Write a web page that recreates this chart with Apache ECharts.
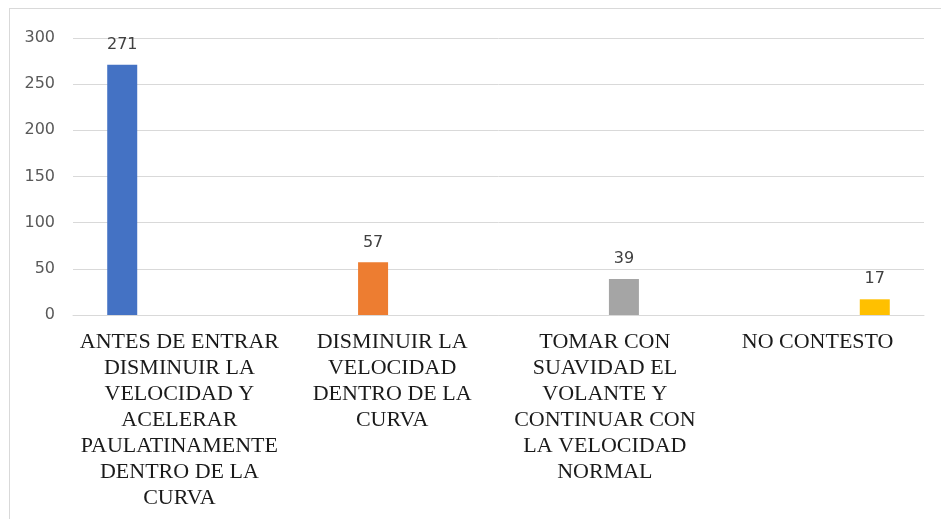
<!DOCTYPE html>
<html><head><meta charset="utf-8">
<script src="https://cdn.jsdelivr.net/npm/echarts@6/dist/echarts.min.js"></script>
<style>html,body{margin:0;padding:0;background:#fff}#c{width:941px;height:519px}</style>
</head><body><div id="c"></div>
<script>
const categories = [
  "ANTES DE ENTRAR\nDISMINUIR LA\nVELOCIDAD Y\nACELERAR\nPAULATINAMENTE\nDENTRO DE LA\nCURVA",
  "DISMINUIR LA\nVELOCIDAD\nDENTRO DE LA\nCURVA",
  "TOMAR CON\nSUAVIDAD EL\nVOLANTE Y\nCONTINUAR CON\nLA VELOCIDAD\nNORMAL",
  "NO CONTESTO"
];
const values = [271, 57, 39, 17];
const colors = ["#4472C4", "#ED7D31", "#A5A5A5", "#FFC000"];
const yTicks = {min: 0, max: 300, interval: 50};

const chart = echarts.init(document.getElementById('c'));
const series = values.map((v, i) => ({
  type: 'bar',
  data: categories.map((c, j) => j === i ? v : null),
  barWidth: 30,
  barGap: '27%',
  itemStyle: {color: colors[i]},
  label: {show: true, position: 'top', distance: 12, color: '#404040',
          fontFamily: 'DejaVu Sans', fontSize: 16}
}));
chart.setOption({
  animation: false,
  grid: {left: 73, right: 17, top: 38, bottom: 204, containLabel: false},
  xAxis: {
    type: 'category', data: categories,
    axisLine: {lineStyle: {color: '#d9d9d9'}}, axisTick: {show: false},
    axisLabel: {color: '#1a1a1a', fontFamily: 'Liberation Serif', fontSize: 22,
                lineHeight: 26, margin: 14, interval: 0, align: 'center'}
  },
  yAxis: {
    type: 'value', min: yTicks.min, max: yTicks.max, interval: yTicks.interval,
    axisLine: {show: false}, axisTick: {show: false},
    splitLine: {lineStyle: {color: '#d9d9d9', width: 1}},
    axisLabel: {color: '#595959', fontFamily: 'DejaVu Sans', fontSize: 16, margin: 18}
  },
  graphic: [
    {type: 'line', shape: {x1: 9, y1: 8.5, x2: 941, y2: 8.5}, style: {stroke: '#d9d9d9', lineWidth: 1}},
    {type: 'line', shape: {x1: 9.5, y1: 8, x2: 9.5, y2: 519}, style: {stroke: '#d9d9d9', lineWidth: 1}}
  ],
  series: series
});
</script></body></html>
